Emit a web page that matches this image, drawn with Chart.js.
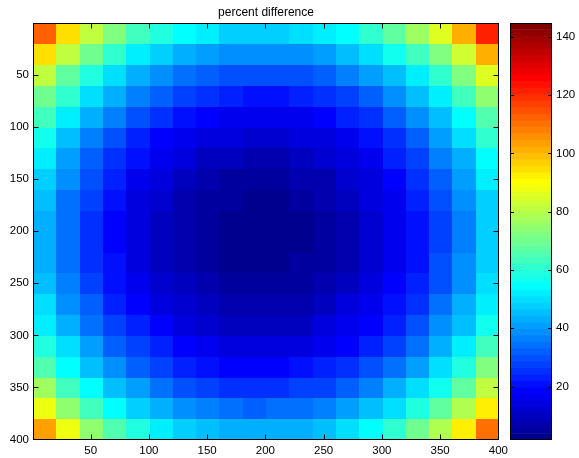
<!DOCTYPE html>
<html>
<head>
<meta charset="utf-8">
<script src="https://cdn.jsdelivr.net/npm/chart.js@4.4.0/dist/chart.umd.min.js"></script>
<style>
  body { margin: 0; background: #fff; }
  #wrap { position: relative; width: 579px; height: 458px; }
  canvas { position: absolute; top: 0; }
  #heat { left: 0; }
  #bar { left: 500px; }
</style>
</head>
<body>
<div id="wrap">
  <canvas id="heat" width="579" height="458"></canvas>
  <canvas id="bar" width="79" height="458"></canvas>
</div>
<script>
const titleText = "percent difference";

// cell centres (image is 400 x 400, sampled every 20 px)
const xCenters = [10.5, 30.5, 50.5, 70.5, 90.5, 110.5, 130.5, 150.5, 170.5, 190.5,
                  210.5, 230.5, 250.5, 270.5, 290.5, 310.5, 330.5, 350.5, 370.5, 390.5];
const yCenters = [10.5, 30.5, 50.5, 70.5, 90.5, 110.5, 130.5, 150.5, 170.5, 190.5,
                  210.5, 230.5, 250.5, 270.5, 290.5, 310.5, 330.5, 350.5, 370.5, 390.5];

const xTicks = [50, 100, 150, 200, 250, 300, 350, 400];
const yTicks = [50, 100, 150, 200, 250, 300, 350, 400];
const cbTicks = [20, 40, 60, 80, 100, 120, 140];

// colour limits
const cMin = 1.7;
const cMax = 144.7;

// percent difference, one row per y centre
const z = [
  [113, 95, 82, 72, 64, 59, 54, 51, 48, 47, 48, 49, 52, 55, 61, 67, 76, 86, 102, 122],
  [94, 81, 69, 61, 53, 48, 43, 40, 39, 38, 38, 39, 41, 45, 49, 56, 63, 73, 84, 102],
  [81, 68, 59, 50, 44, 39, 35, 31, 29, 29, 29, 30, 32, 36, 40, 46, 53, 62, 73, 86],
  [70, 60, 50, 42, 36, 31, 27, 25, 23, 21, 21, 23, 25, 28, 32, 38, 45, 53, 63, 75],
  [63, 52, 43, 36, 29, 25, 21, 18, 17, 16, 16, 17, 19, 23, 26, 31, 38, 46, 55, 66],
  [56, 46, 37, 30, 24, 19, 16, 14, 13, 12, 12, 13, 15, 17, 21, 26, 32, 40, 49, 60],
  [51, 41, 32, 26, 20, 16, 13, 10, 9, 8, 8, 9, 12, 14, 17, 23, 28, 36, 44, 55],
  [47, 38, 29, 23, 17, 13, 10, 8, 6, 6, 6, 7, 8, 12, 15, 19, 25, 32, 41, 51],
  [45, 35, 27, 20, 15, 12, 8, 6, 4, 3, 3, 4, 7, 9, 13, 17, 23, 29, 38, 48],
  [43, 34, 26, 19, 14, 10, 7, 4, 3, 2, 2, 3, 6, 8, 12, 16, 21, 28, 37, 47],
  [43, 34, 26, 19, 14, 10, 7, 4, 3, 2, 2, 3, 6, 8, 12, 16, 21, 28, 37, 47],
  [44, 35, 26, 20, 15, 10, 7, 4, 3, 3, 3, 4, 6, 8, 12, 16, 21, 29, 38, 48],
  [46, 36, 28, 21, 16, 12, 9, 7, 4, 4, 4, 6, 7, 10, 14, 18, 24, 30, 39, 50],
  [49, 39, 31, 24, 18, 15, 12, 9, 7, 7, 7, 8, 9, 13, 16, 20, 26, 34, 42, 53],
  [53, 43, 35, 28, 23, 18, 15, 12, 10, 9, 10, 10, 13, 16, 19, 24, 30, 38, 46, 57],
  [59, 49, 40, 32, 27, 23, 18, 16, 15, 14, 14, 15, 17, 19, 24, 28, 35, 43, 52, 63],
  [66, 55, 46, 39, 32, 28, 24, 21, 19, 19, 19, 20, 23, 25, 29, 35, 41, 49, 59, 71],
  [76, 63, 54, 46, 40, 35, 30, 28, 26, 25, 25, 27, 28, 31, 36, 42, 49, 57, 67, 81],
  [87, 74, 63, 55, 48, 43, 39, 36, 34, 32, 34, 35, 37, 40, 45, 50, 58, 67, 78, 92],
  [104, 87, 75, 66, 59, 53, 48, 45, 43, 42, 42, 44, 46, 50, 55, 61, 69, 79, 92, 110]
];

// ---------------------------
// jet colormap, same as matlab jet(64)
// ---------------------------
function jet(n) {
  const m = Math.ceil(n / 4);
  const u = [];
  for (let k = 1; k <= m; k++) u.push(k / m);
  for (let k = 1; k < m; k++) u.push(1);
  for (let k = m; k >= 1; k--) u.push(k / m);
  const g0 = Math.ceil(m / 2) - (n % 4 === 1 ? 1 : 0);
  const at = (k) => (k >= 1 && k <= u.length) ? u[k - 1] : 0;
  const out = [];
  for (let i = 1; i <= n; i++) {
    const r = at(i - g0 - m), g = at(i - g0), b = at(i - g0 + m);
    out.push(`rgb(${Math.round(r * 255)},${Math.round(g * 255)},${Math.round(b * 255)})`);
  }
  return out;
}
const colors = jet(64);

function colorFor(v) {
  let k = Math.floor((v - cMin) / (cMax - cMin) * colors.length);
  k = Math.max(0, Math.min(colors.length - 1, k));
  return colors[k];
}

const FONT = "'Liberation Sans', Arial, Helvetica, sans-serif";
Chart.defaults.font.family = FONT;
Chart.defaults.color = "#000";

// inward tick marks + box, matlab style
function drawBox(ctx, a, xs, xt, ys, yt, len) {
  const l = Math.round(a.left) + 0.5, r = Math.round(a.right) - 0.5;
  const t = Math.round(a.top) + 0.5, b = Math.round(a.bottom) - 0.5;
  ctx.save();
  ctx.strokeStyle = "#000";
  ctx.lineWidth = 1;
  ctx.beginPath();
  if (xs) {
    xt.forEach(v => {
      const p = Math.round(xs.getPixelForValue(v)) + 0.5;
      ctx.moveTo(p, b); ctx.lineTo(p, b - len);
      ctx.moveTo(p, t); ctx.lineTo(p, t + len);
    });
  }
  yt.forEach(v => {
    const p = Math.round(ys.getPixelForValue(v)) + 0.5;
    ctx.moveTo(l, p); ctx.lineTo(l + len, p);
    ctx.moveTo(r, p); ctx.lineTo(r - len, p);
  });
  ctx.stroke();
  ctx.strokeRect(l, t, r - l, b - t);
  ctx.restore();
}

const heatPlugin = {
  id: "heatCells",
  beforeDatasetsDraw(chart) {
    const { ctx, scales: { x, y } } = chart;
    const hx = (xCenters[1] - xCenters[0]) / 2;
    const hy = (yCenters[1] - yCenters[0]) / 2;
    ctx.save();
    z.forEach((row, j) => {
      row.forEach((v, i) => {
        const l = Math.round(x.getPixelForValue(xCenters[i] - hx));
        const r = Math.round(x.getPixelForValue(xCenters[i] + hx));
        const t = Math.round(y.getPixelForValue(yCenters[j] - hy));
        const b = Math.round(y.getPixelForValue(yCenters[j] + hy));
        ctx.fillStyle = colorFor(v);
        ctx.fillRect(l, t, r - l, b - t);
      });
    });
    ctx.restore();
  },
  afterDraw(chart) {
    drawBox(chart.ctx, chart.chartArea, chart.scales.x, xTicks, chart.scales.y, yTicks, 5);
  }
};

// ===========================
// main image
// ===========================
new Chart(document.getElementById("heat"), {
  type: "scatter",
  data: { datasets: [{ data: [], pointRadius: 0 }] },
  options: {
    responsive: false,
    animation: false,
    devicePixelRatio: 1,
    layout: { padding: { left: 0, right: 80, top: 0, bottom: 0 } },
    plugins: {
      legend: { display: false },
      tooltip: { enabled: false },
      title: {
        display: true,
        text: titleText,
        fullSize: false,
        color: "#000",
        font: { size: 12, weight: "normal" },
        padding: { top: 5, bottom: 4 }
      }
    },
    scales: {
      x: {
        type: "linear", min: 0.5, max: 400.5,
        grid: { display: false, drawTicks: false },
        border: { display: false },
        afterBuildTicks: s => { s.ticks = xTicks.map(v => ({ value: v })); },
        afterFit: s => { s.height = 18; },
        ticks: { color: "#000", font: { size: 11.5 }, padding: 4, maxRotation: 0, autoSkip: false }
      },
      y: {
        type: "linear", reverse: true, min: 0.5, max: 400.5,
        grid: { display: false, drawTicks: false },
        border: { display: false },
        afterBuildTicks: s => { s.ticks = yTicks.map(v => ({ value: v })); },
        afterFit: s => { s.width = 33; },
        ticks: { color: "#000", font: { size: 11.5 }, padding: 4, autoSkip: false }
      }
    }
  },
  plugins: [heatPlugin]
});

// ===========================
// colorbar
// ===========================
const step = (cMax - cMin) / colors.length;
new Chart(document.getElementById("bar"), {
  type: "bar",
  data: {
    labels: [""],
    datasets: colors.map((c, k) => ({
      data: [[cMin + k * step, cMin + (k + 1) * step]],
      backgroundColor: c,
      borderWidth: 0,
      barPercentage: 1,
      categoryPercentage: 1,
      grouped: false
    }))
  },
  options: {
    responsive: false,
    animation: false,
    devicePixelRatio: 1,
    layout: { padding: { left: 10, right: 0, top: 23, bottom: 18 } },
    plugins: { legend: { display: false }, tooltip: { enabled: false } },
    scales: {
      x: { display: false },
      y: {
        position: "right", min: cMin, max: cMax,
        grid: { display: false, drawTicks: false },
        border: { display: false },
        afterBuildTicks: s => { s.ticks = cbTicks.map(v => ({ value: v })); },
        afterFit: s => { s.width = 27; },
        ticks: { color: "#000", font: { size: 11.5 }, padding: 4, autoSkip: false }
      }
    }
  },
  plugins: [{
    id: "cbBox",
    afterDraw(chart) {
      drawBox(chart.ctx, chart.chartArea, null, [], chart.scales.y, cbTicks, 3.5);
    }
  }]
});
</script>
</body>
</html>
